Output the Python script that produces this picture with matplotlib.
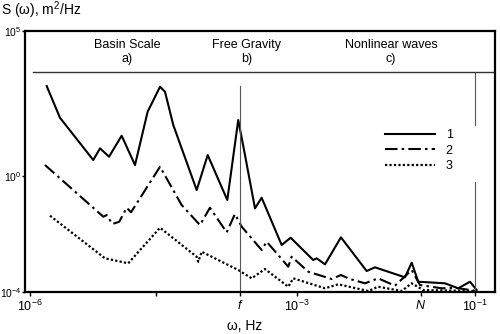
import numpy as np
import matplotlib
matplotlib.use("Agg")
import matplotlib.pyplot as plt

plt.rcParams['font.family'] = ['Liberation Sans', 'DejaVu Sans']
plt.rcParams['mathtext.fontset'] = 'custom'
plt.rcParams['mathtext.rm'] = 'Liberation Sans'
plt.rcParams['mathtext.it'] = 'Liberation Sans:italic'

# spectra, as log10 values
lw1 = [-5.812, -5.663, -5.289, -5.213, -5.112, -4.970, -4.820, -4.678, -4.539, -4.483,
       -4.390, -4.127, -4.003, -3.783, -3.660, -3.584, -3.472, -3.397, -3.172, -3.071,
       -2.817, -2.779, -2.685, -2.506, -2.217, -2.124, -1.787, -1.711, -1.637, -1.337,
       -1.188, -1.056, -0.981]
ls1 = [3.103, 2.010, 0.552, 0.955, 0.666, 1.390, 0.379, 2.217, 3.079, 2.907,
       1.759, -0.483, 0.724, -0.828, 1.931, 0.724, -1.114, -0.748, -2.379, -2.128,
       -2.897, -2.838, -3.045, -2.114, -3.276, -3.148, -3.493, -2.990, -3.645, -3.700,
       -3.872, -3.645, -3.931]

lw2 = [-5.831, -5.176, -5.138, -5.075, -4.997, -4.913, -4.865, -4.539, -4.296, -4.090,
       -3.978, -3.790, -3.697, -3.621, -3.397, -3.340, -3.098, -3.060, -2.873, -2.610,
       -2.506, -2.404, -2.236, -2.087, -1.899, -1.711, -1.618, -1.374, -1.225, -0.981]
ls2 = [0.379, -1.403, -1.345, -1.655, -1.576, -1.093, -1.252, 0.321, -1.000, -1.690,
       -1.093, -1.941, -1.310, -1.748, -2.552, -2.266, -3.128, -2.783, -3.300, -3.552,
       -3.414, -3.552, -3.700, -3.528, -3.783, -3.241, -3.759, -3.872, -3.852, -3.966]

lw3 = [-5.775, -5.157, -4.896, -4.539, -4.127, -4.109, -4.071, -3.660, -3.509, -3.360,
       -3.098, -3.042, -2.685, -2.536, -2.199, -2.087, -1.824, -1.711, -1.581, -1.000]
ls3 = [-1.369, -2.838, -3.010, -1.783, -2.783, -2.955, -2.610, -3.241, -3.528, -3.207,
       -3.817, -3.528, -3.872, -3.734, -3.966, -3.817, -3.966, -3.700, -3.931, -3.966]

f_freq = 10 ** -3.64
N_freq = 10 ** -1.61
regions = ["Basin Scale\na)", "Free Gravity\nb)", "Nonlinear waves\nc)"]
region_x = [0.217, 0.472, 0.779]

fig = plt.figure(figsize=(5, 3.34), dpi=100)
ax = fig.add_axes([0.05, 0.1257, 0.94, 0.7813])

ax.plot(10 ** np.array(lw1), 10 ** np.array(ls1), color='black', lw=1.5,
        solid_joinstyle='round', label='1')
ax.plot(10 ** np.array(lw2), 10 ** np.array(ls2), color='black', lw=1.5,
        ls=(0, (6, 2, 1.2, 2)), label='2')
ax.plot(10 ** np.array(lw3), 10 ** np.array(ls3), color='black', lw=1.6,
        ls=(0, (1, 1)), label='3')

ax.set_xscale('log')
ax.set_yscale('log')
ax.set_xlim(10 ** -6.056, 10 ** -0.775)
ax.set_ylim(1e-4, 1e5)

# header band
ax.axhline(10 ** 3.586, xmin=0.017, xmax=0.998, color='#333333', lw=1)
ax.axvline(f_freq, ymin=0, ymax=0.789, color='#555555', lw=0.8)
ax.axvline(1e-1, ymin=0.421, ymax=0, color='#555555', lw=0.8)
ax.axvline(1e-1, ymin=0.640, ymax=0.843, color='#555555', lw=0.8)
for t, x in zip(regions, region_x):
    ax.text(x, 0.921, t, transform=ax.transAxes, ha='center', va='center',
            fontsize=9, linespacing=1.25)

ax.set_xticks([1e-6, 10 ** -4.58, f_freq, 1e-3, N_freq, 1e-1])
ax.set_xticklabels(['$10^{-6}$', '', '$\\mathit{f}$', '$10^{-3}$', '$\\mathit{N}$', '$10^{-1}$'],
                   fontsize=9)
ax.xaxis.set_minor_locator(matplotlib.ticker.NullLocator())
ax.set_yticks([1e-4, 1, 1e5])
ax.set_yticklabels(['$10^{-4}$', '$10^{0}$', '$10^{5}$'], fontsize=7.5)
ax.yaxis.set_minor_locator(matplotlib.ticker.NullLocator())
ax.tick_params(axis='x', direction='out', length=3, width=1, pad=2)
ax.tick_params(axis='y', direction='out', length=2, width=1, pad=0.5)
for s in ax.spines.values():
    s.set_linewidth(1.6)

ax.legend(loc='upper left', bbox_to_anchor=(0.765, 0.625), frameon=False,
          handlelength=4.0, handletextpad=0.9, labelspacing=0.3, fontsize=9,
          borderpad=0, borderaxespad=0)

fig.text(0.002, 0.97, 'S (ω), m$^2$/Hz', fontsize=10, va='center', ha='left')
fig.text(0.49, 0.024, 'ω, Hz', fontsize=10, va='center', ha='center')

fig.savefig('out.png', dpi=100)
